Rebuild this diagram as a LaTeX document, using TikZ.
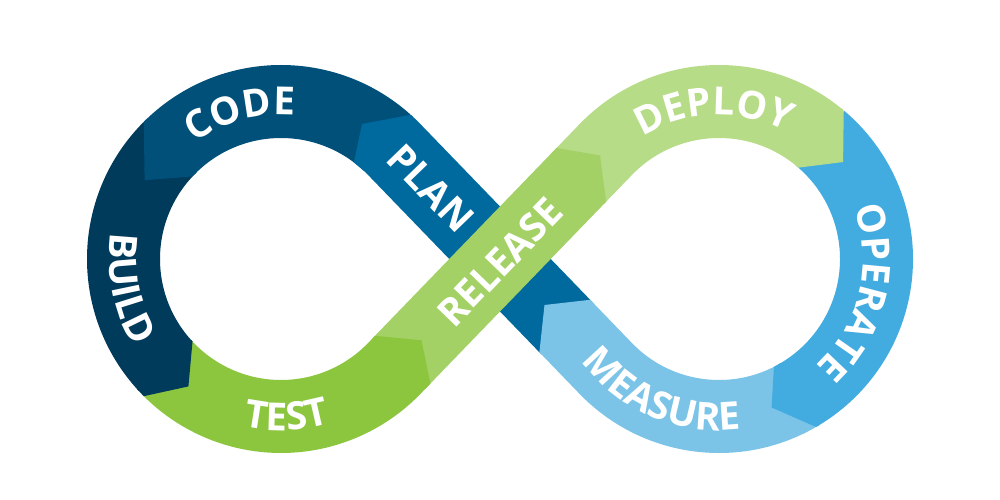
\documentclass[tikz,border=0pt]{standalone}
\usepackage{fontspec}
\setmainfont{Open Sans}
\usetikzlibrary{decorations.text}

\definecolor{buildcol}{HTML}{003B5C}
\definecolor{codecol}{HTML}{00507A}
\definecolor{plancol}{HTML}{006A9E}
\definecolor{testcol}{HTML}{8CC63F}
\definecolor{releasecol}{HTML}{A3D165}
\definecolor{deploycol}{HTML}{B6DC87}
\definecolor{operatecol}{HTML}{42ABDF}
\definecolor{measurecol}{HTML}{7BC4E8}

\begin{document}
\begin{tikzpicture}[
    band/.style={line width=7.3mm},
    lbl/.style={text=white,font=\fontsize{11}{13}\selectfont\bfseries},
    arclbl/.style={decorate,decoration={text along path,text align=center,
      text={|\fontsize{11}{13}\selectfont\bfseries\color{white}|#1}}}
  ]
    \useasboundingbox (-5,-2.41) rectangle (5,2.59);
    \coordinate (L) at (-2.19,0);
    \coordinate (R) at (2.19,0);
    % plan first, release crosses over it
    \draw[band,plancol] (0.66,-0.683) -- (-1.057,1.094) arc[start angle=44,end angle=48,radius=1.575];
    \draw[band,codecol,shift={(L)}] (48:1.575) arc[start angle=48,end angle=135,radius=1.575];
    \draw[band,buildcol,shift={(L)}] (135:1.575) arc[start angle=135,end angle=223,radius=1.575];
    \draw[band,testcol,shift={(L)}] (223:1.575) arc[start angle=223,end angle=316,radius=1.575] -- ++(46:0.1);
    \draw[band,releasecol] (-0.987,-1.021) -- (0.799,0.827);
    \draw[band,deploycol] (0.799,0.827) -- (1.057,1.094) arc[start angle=136,end angle=50,radius=1.575];
    \draw[band,operatecol,shift={(R)}] (50:1.575) arc[start angle=50,end angle=-60,radius=1.575];
    \draw[band,measurecol,shift={(R)}] (-60:1.575) arc[start angle=-60,end angle=-136,radius=1.575] -- ++(134:0.571);
    % arrow tips
    \fill[plancol,shift={(L)}] (47:1.94) -- (48:1.94) -- (59:1.575) -- (53:1.21) -- (47:1.21) -- cycle;
    \fill[codecol,shift={(L)}] (134:1.94) -- (135:1.94) -- (150:1.575) -- (137:1.21) -- (134:1.21) -- cycle;
    \fill[buildcol,shift={(L)}] (222:1.94) -- (225:1.94) -- (234:1.575) -- (223:1.21) -- (222:1.21) -- cycle;
    \fill[testcol] (-0.745,-1.297) -- (-0.696,-1.246) -- (-0.785,-0.813) -- (-1.249,-0.768) -- (-1.270,-0.789) -- cycle;
    \fill[releasecol] (0.516,1.059) -- (0.564,1.110) -- (1.000,1.036) -- (1.061,0.574) -- (1.041,0.552) -- cycle;
    \fill[deploycol,shift={(R)}] (51:1.94) -- (50:1.94) -- (38:1.575) -- (49:1.21) -- (51:1.21) -- cycle;
    \fill[operatecol,shift={(R)}] (-59:1.94) -- (-60:1.94) -- (-70.5:1.575) -- (-63:1.21) -- (-59:1.21) -- cycle;
    \fill[measurecol] (0.418,-0.959) -- (0.394,-0.933) -- (0.445,-0.460) -- (0.902,-0.408) -- (0.943,-0.451) -- cycle;
    % labels
    \path[arclbl=CODE,shift={(L)}] (146:1.44) arc[start angle=146,end angle=65,radius=1.44];
    \path[arclbl=BUILD,shift={(L)}] (150:1.715) arc[start angle=150,end angle=232,radius=1.715];
    \path[arclbl=TEST,shift={(L)}] (245:1.715) arc[start angle=245,end angle=299,radius=1.715];
    \path[arclbl=DEPLOY,shift={(R)}] (140:1.44) arc[start angle=140,end angle=44,radius=1.44];
    \path[arclbl=OPERATE,shift={(R)}] (33:1.44) arc[start angle=33,end angle=-60,radius=1.44];
    \path[arclbl=MEASURE,shift={(R)}] (200:1.715) arc[start angle=200,end angle=294,radius=1.715];
    \node[lbl,rotate=-46] (plan) at (-0.69,0.71) {PLAN};
    \node[lbl,rotate=46] (release) at (0,-0.03) {RELEASE};
\end{tikzpicture}
\end{document}
